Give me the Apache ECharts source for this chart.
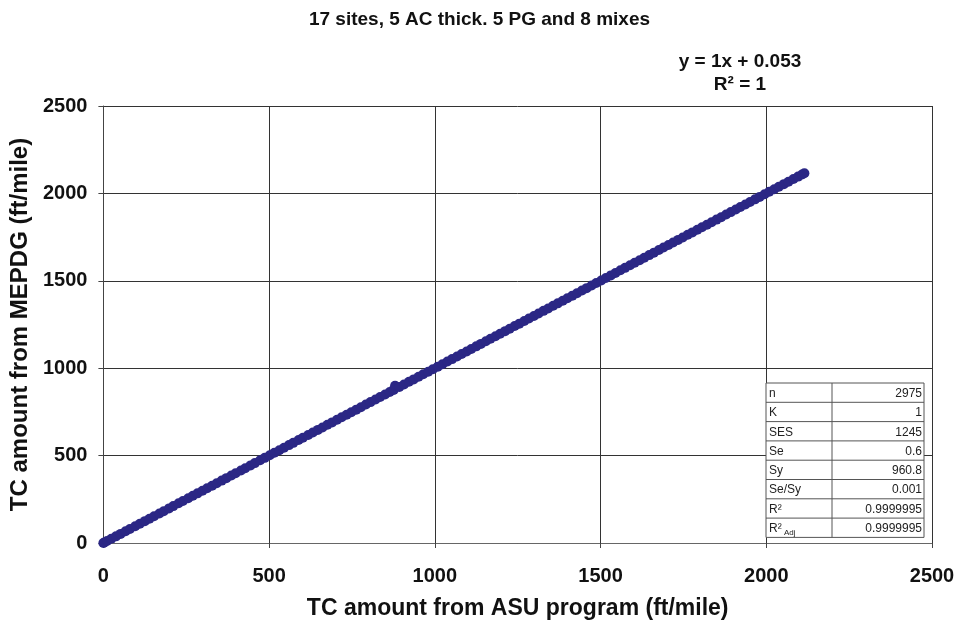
<!DOCTYPE html>
<html><head><meta charset="utf-8">
<script src="https://cdn.jsdelivr.net/npm/echarts@6/dist/echarts.min.js"></script>
<style>html,body{margin:0;padding:0;background:#fff}#c{width:959px;height:628px}</style>
</head><body><div id="c"></div>
<script>
const titleText = '17 sites, 5 AC thick. 5 PG and 8 mixes';
const xTitle = 'TC amount from ASU program (ft/mile)';
const yTitle = 'TC amount from MEPDG (ft/mile)';
const trendEq = 'y = 1x + 0.053';
const trendR2 = 'R² = 1';
const xTicks = [0, 500, 1000, 1500, 2000, 2500];
const yTicks = [0, 500, 1000, 1500, 2000, 2500];
const asuX = [0,3,11,24,38,52,67,80,96,110,125,139,153,169,182,198,211,227,240,256,270,284,299,313,328,342,357,371,386,399,415,428,444,457,473,487,502,516,531,545,560,573,589,602,618,632,647,661,676,690,705,719,734,748,763,777,792,806,821,835,850,864,876,880,893,907,922,936,951,965,980,994,1009,1023,1038,1052,1067,1081,1096,1110,1125,1139,1154,1168,1183,1197,1212,1226,1241,1255,1270,1284,1299,1313,1328,1342,1357,1371,1386,1400,1415,1429,1444,1458,1473,1487,1502,1516,1531,1545,1560,1574,1589,1603,1618,1632,1647,1661,1676,1690,1705,1719,1734,1748,1763,1777,1792,1806,1821,1835,1850,1864,1879,1893,1908,1922,1937,1951,1966,1980,1995,2009,2024,2038,2053,2067,2082,2096,2108,2115];
const mepdgY = [0,3,11,24,38,52,67,80,96,110,125,139,153,169,182,198,211,227,240,256,270,284,299,313,328,342,357,371,386,399,415,428,444,457,473,487,502,516,531,545,560,573,589,602,618,632,647,661,676,690,705,719,734,748,763,777,792,806,821,835,850,864,876,900,893,907,922,936,951,965,980,994,1009,1023,1038,1052,1067,1081,1096,1110,1125,1139,1154,1168,1183,1197,1212,1226,1241,1255,1270,1284,1299,1313,1328,1342,1357,1371,1386,1400,1415,1429,1444,1458,1473,1487,1502,1516,1531,1545,1560,1574,1589,1603,1618,1632,1647,1661,1676,1690,1705,1719,1734,1748,1763,1777,1792,1806,1821,1835,1850,1864,1879,1893,1908,1922,1937,1951,1966,1980,1995,2009,2024,2038,2053,2067,2082,2096,2108,2115];
const statLabels = ['n','K','SES','Se','Sy','Se/Sy','R²','R²'];
const statValues = ['2975','1','1245','0.6','960.8','0.001','0.9999995','0.9999995'];

const chart = echarts.init(document.getElementById('c'), null, {renderer:'canvas'});
const pts = asuX.map((x,i)=>[x, mepdgY[i]]);
const FONT = 'Liberation Sans, Arial, sans-serif';

const tL = 766, tM = 832, tR = 924, tT = 383, rowH = 19.3;
const tableEls = [];
tableEls.push({type:'rect', shape:{x:tL, y:tT, width:tR-tL, height:rowH*statLabels.length}, style:{fill:'#fff', stroke:'#555', lineWidth:1}, z:10});
tableEls.push({type:'line', shape:{x1:tM, y1:tT, x2:tM, y2:tT+rowH*statLabels.length}, style:{stroke:'#555', lineWidth:1}, z:11});
statLabels.forEach((lab,i)=>{
  const y = tT + rowH*i;
  if (i>0) tableEls.push({type:'line', shape:{x1:tL, y1:y, x2:tR, y2:y}, style:{stroke:'#555', lineWidth:1}, z:11});
  tableEls.push({type:'text', x:tL+3, y:y+rowH/2+1, style:{text:lab, fontSize:12, fontFamily:FONT, fill:'#222', verticalAlign:'middle'}, z:12});
  tableEls.push({type:'text', x:tR-2, y:y+rowH/2+1, style:{text:statValues[i], fontSize:12, fontFamily:FONT, fill:'#222', align:'right', verticalAlign:'middle'}, z:12});
});
tableEls.push({type:'text', x:tL+18, y:tT+rowH*7+rowH/2+5, style:{text:'Adj', fontSize:8, fontFamily:FONT, fill:'#222', verticalAlign:'middle'}, z:12});

chart.setOption({
  backgroundColor:'#fff',
  animation:false,
  title:{text:titleText, left:'center', top:5, textStyle:{fontSize:19, fontWeight:'bold', fontFamily:FONT, color:'#111'}},
  grid:{left:102, right:27, top:106, bottom:85},
  xAxis:{type:'value', min:0, max:2500, interval:500,
    name:xTitle, nameLocation:'middle', nameGap:54,
    nameTextStyle:{fontSize:23, fontWeight:'bold', fontFamily:FONT, color:'#111'},
    axisLine:{show:true, lineStyle:{color:'#666', width:1}},
    axisTick:{show:true, length:5, lineStyle:{color:'#444'}},
    axisLabel:{fontSize:20, fontWeight:'bold', fontFamily:FONT, color:'#111', margin:23, formatter:v=>String(v)},
    splitLine:{show:true, lineStyle:{color:'#333', width:1}}},
  yAxis:{type:'value', min:0, max:2500, interval:500,
    name:yTitle, nameLocation:'middle', nameGap:64, nameRotate:90,
    nameTextStyle:{fontSize:24, fontWeight:'bold', fontFamily:FONT, color:'#111'},
    axisLine:{show:true, lineStyle:{color:'#444', width:1}},
    axisTick:{show:true, length:5, lineStyle:{color:'#444'}},
    axisLabel:{fontSize:20, fontWeight:'bold', fontFamily:FONT, color:'#111', margin:16, formatter:v=>String(v)},
    splitLine:{show:true, lineStyle:{color:'#333', width:1}}},
  series:[{type:'scatter', data:pts, symbol:'circle', symbolSize:10, itemStyle:{color:'#2b2785', opacity:1}, z:5}],
  graphic:[
    {type:'text', x:740, y:62, style:{text:trendEq, fontSize:19, fontWeight:'bold', fontFamily:FONT, fill:'#111', align:'center', verticalAlign:'middle'}},
    {type:'text', x:740, y:85, style:{text:trendR2, fontSize:19, fontWeight:'bold', fontFamily:FONT, fill:'#111', align:'center', verticalAlign:'middle'}},
    ...tableEls
  ]
});
</script></body></html>
